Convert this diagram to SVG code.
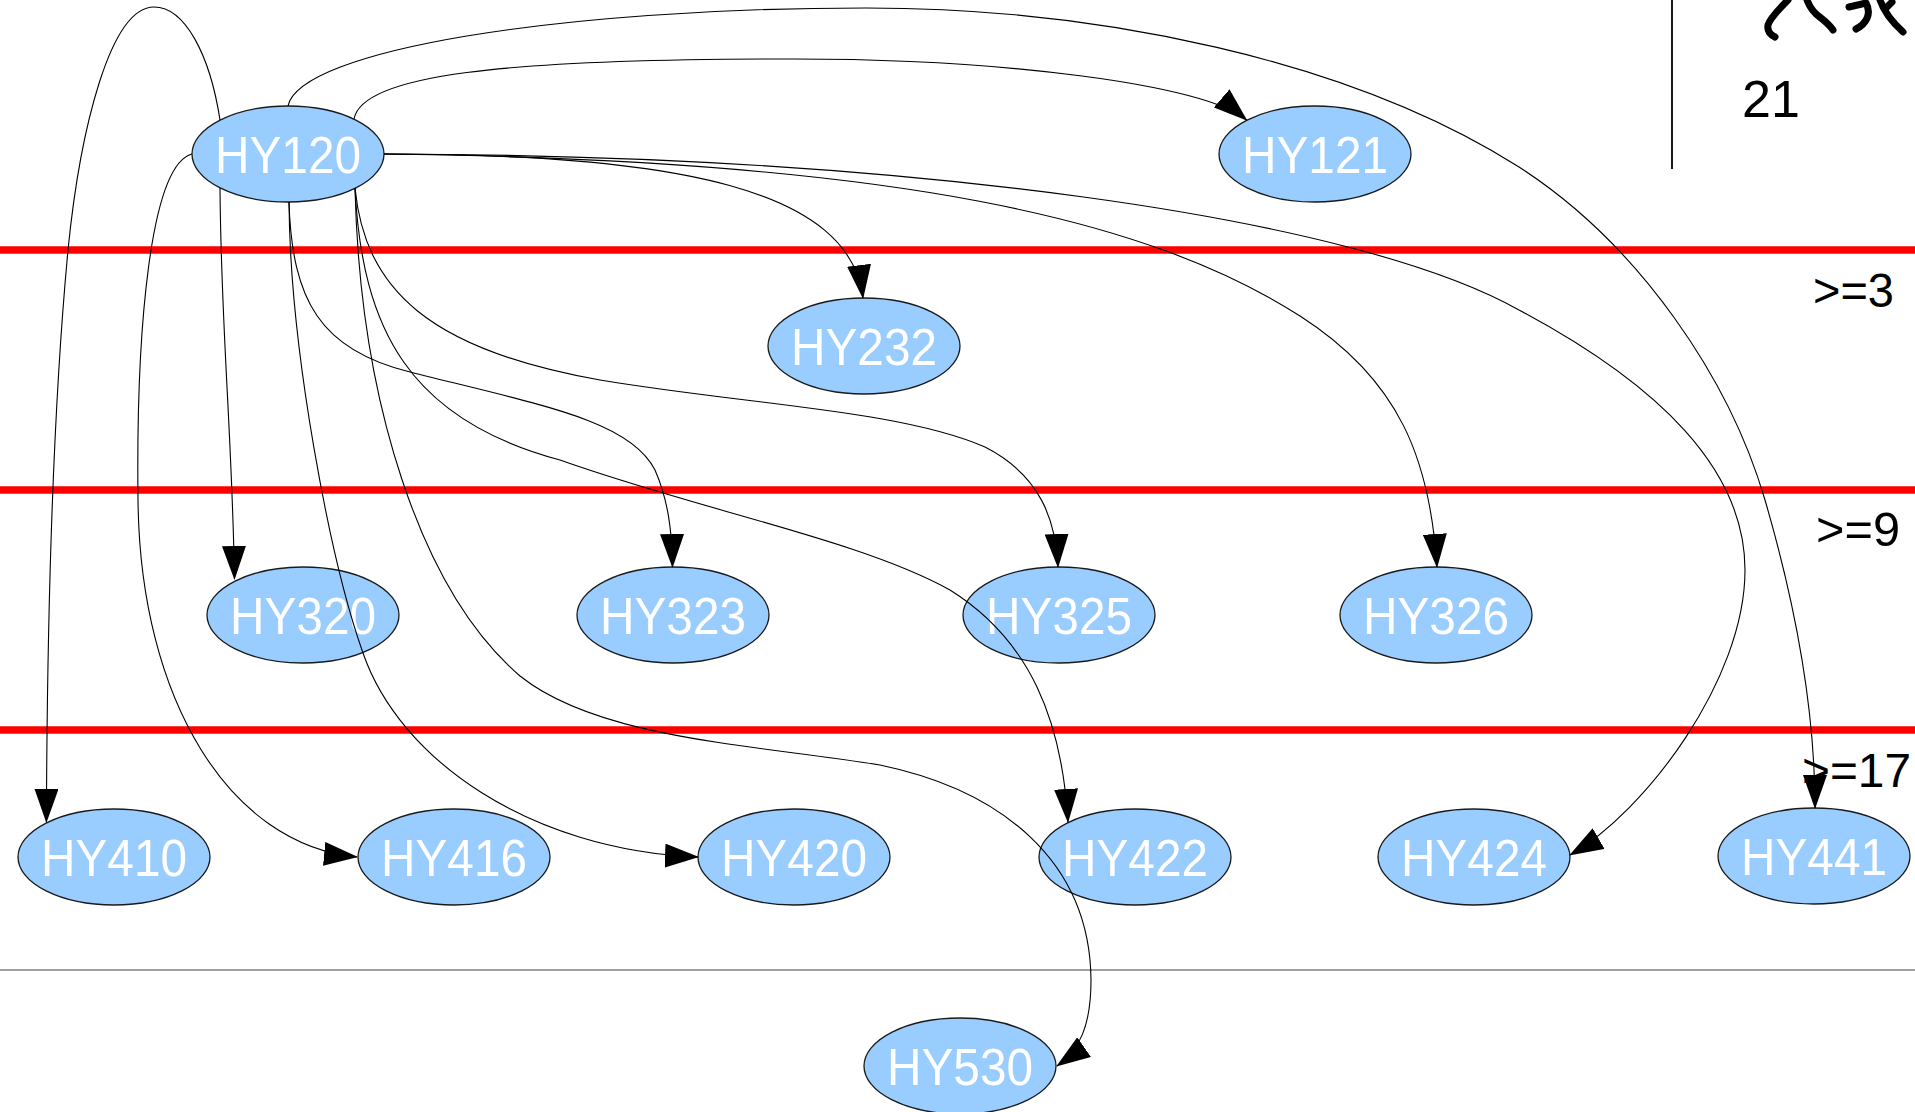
<svg xmlns="http://www.w3.org/2000/svg" width="1915" height="1112" viewBox="0 0 1915 1112">
<style>
.band{stroke:#ff0000;stroke-width:7.5;fill:none}
.node ellipse{fill:#99ccff;stroke:#1a1a1a;stroke-width:1.3}
.node text{font-family:"Liberation Sans",Arial,sans-serif;font-size:52px;fill:#ffffff;text-anchor:middle}
.lbl{font-family:"Liberation Sans",Arial,sans-serif;font-size:48px;fill:#000000}
.big{font-size:52px}
.edge{fill:none;stroke:#000000;stroke-width:1.1;marker-end:url(#arr)}
.scrib{fill:none;stroke:#000000;stroke-width:7;stroke-linecap:round;stroke-linejoin:round}
</style>
<defs>
<marker id="arr" markerUnits="userSpaceOnUse" markerWidth="34" markerHeight="24" viewBox="0 0 34 24" refX="33" refY="12" orient="auto">
<path d="M0,0 L34,12 L0,24 z" fill="#000000"/>
</marker>
</defs>
<rect x="0" y="0" width="1915" height="1112" fill="#ffffff"/>
<g id="bands">
<line class="band" x1="0" y1="250" x2="1915" y2="250"/>
<line class="band" x1="0" y1="490" x2="1915" y2="490"/>
<line class="band" x1="0" y1="730" x2="1915" y2="730"/>
<line x1="0" y1="970" x2="1915" y2="970" stroke="#808080" stroke-width="1.6"/>
<line x1="1672" y1="0" x2="1672" y2="169" stroke="#000000" stroke-width="1.8"/>
</g>
<g id="scribble">
<path class="scrib" d="M1788,0 C1780,8 1770,18 1768,25 C1767,31 1771,35 1775,37"/>
<path class="scrib" d="M1807,0 C1810,8 1815,14 1821,18 C1826,22 1831,27 1833,30"/>
<path class="scrib" d="M1849,7 L1866,3 C1872,14 1866,24 1856,29"/>
<path class="scrib" d="M1880,0 C1884,12 1892,22 1903,32"/>
<path class="scrib" d="M1886,8 L1892,2"/>
</g>
<g id="labels">
<text class="lbl big" x="1742" y="117">21</text>
<text class="lbl" x="1813" y="307" textLength="81" lengthAdjust="spacingAndGlyphs">&gt;=3</text>
<text class="lbl" x="1816" y="546" textLength="84" lengthAdjust="spacingAndGlyphs">&gt;=9</text>
<text class="lbl" x="1802" y="787" textLength="109" lengthAdjust="spacingAndGlyphs">&gt;=17</text>
</g>
<g id="nodes">
<g class="node" id="HY120"><ellipse cx="288" cy="154" rx="96" ry="48"/><text x="288" y="173" textLength="146" lengthAdjust="spacingAndGlyphs">HY120</text></g>
<g class="node" id="HY121"><ellipse cx="1315" cy="154" rx="96" ry="48"/><text x="1315" y="173" textLength="146" lengthAdjust="spacingAndGlyphs">HY121</text></g>
<g class="node" id="HY232"><ellipse cx="864" cy="346" rx="96" ry="48"/><text x="864" y="365" textLength="146" lengthAdjust="spacingAndGlyphs">HY232</text></g>
<g class="node" id="HY320"><ellipse cx="303" cy="615" rx="96" ry="48"/><text x="303" y="634" textLength="146" lengthAdjust="spacingAndGlyphs">HY320</text></g>
<g class="node" id="HY323"><ellipse cx="673" cy="615" rx="96" ry="48"/><text x="673" y="634" textLength="146" lengthAdjust="spacingAndGlyphs">HY323</text></g>
<g class="node" id="HY325"><ellipse cx="1059" cy="615" rx="96" ry="48"/><text x="1059" y="634" textLength="146" lengthAdjust="spacingAndGlyphs">HY325</text></g>
<g class="node" id="HY326"><ellipse cx="1436" cy="615" rx="96" ry="48"/><text x="1436" y="634" textLength="146" lengthAdjust="spacingAndGlyphs">HY326</text></g>
<g class="node" id="HY410"><ellipse cx="114" cy="857" rx="96" ry="48"/><text x="114" y="876" textLength="146" lengthAdjust="spacingAndGlyphs">HY410</text></g>
<g class="node" id="HY416"><ellipse cx="454" cy="857" rx="96" ry="48"/><text x="454" y="876" textLength="146" lengthAdjust="spacingAndGlyphs">HY416</text></g>
<g class="node" id="HY420"><ellipse cx="794" cy="857" rx="96" ry="48"/><text x="794" y="876" textLength="146" lengthAdjust="spacingAndGlyphs">HY420</text></g>
<g class="node" id="HY422"><ellipse cx="1135" cy="857" rx="96" ry="48"/><text x="1135" y="876" textLength="146" lengthAdjust="spacingAndGlyphs">HY422</text></g>
<g class="node" id="HY424"><ellipse cx="1474" cy="857" rx="96" ry="48"/><text x="1474" y="876" textLength="146" lengthAdjust="spacingAndGlyphs">HY424</text></g>
<g class="node" id="HY441"><ellipse cx="1814" cy="856" rx="96" ry="48"/><text x="1814" y="875" textLength="146" lengthAdjust="spacingAndGlyphs">HY441</text></g>
<g class="node" id="HY530"><ellipse cx="960" cy="1066" rx="96" ry="48"/><text x="960" y="1085" textLength="146" lengthAdjust="spacingAndGlyphs">HY530</text></g>
</g>
<g id="connectors">
<path class="edge" d="M354,119 C362,75 500,59 794,59 C1000,59 1205,84 1246.6,120"/>
<path class="edge" d="M288,106 C300,50 560,8 866,8 C1100,8 1350,60 1519,167 C1640,245 1730,380 1765,500 C1800,620 1815,720 1815,808"/>
<path class="edge" d="M220,120 C210,55 185,7 154,7 C110,7 80,130 68,250 C52,420 47,650 46.4,822"/>
<path class="edge" d="M192,154 C150,165 136,330 138,500 C140,700 230,845 357,857"/>
<path class="edge" d="M220,188 C221,330 232,430 234.5,579"/>
<path class="edge" d="M289,202 C290,350 330,560 363,653 C400,760 530,850 698,857"/>
<path class="edge" d="M384,154 C680,154 850,190 863,298"/>
<path class="edge" d="M384,154 C900,160 1150,220 1300,316 C1400,380 1430,460 1437,567"/>
<path class="edge" d="M384,154 C900,155 1350,215 1519,310 C1660,385 1745,470 1745,570 C1745,680 1645,812 1570,855"/>
<path class="edge" d="M289,202 C292,300 320,350 410,372 C540,405 630,420 655,470 C668,500 672,530 672.5,567"/>
<path class="edge" d="M355,188 C365,290 430,350 600,380 C750,405 900,410 985,447 C1040,475 1056,520 1058,567"/>
<path class="edge" d="M355,188 C362,330 410,420 560,460 C700,510 860,540 950,590 C1030,640 1062,720 1068,822"/>
<path class="edge" d="M355,188 C360,400 420,590 520,676 C600,740 760,745 880,765 C1000,790 1090,860 1091,980 C1091,1025 1080,1050 1057,1066"/>
</g>
</svg>
